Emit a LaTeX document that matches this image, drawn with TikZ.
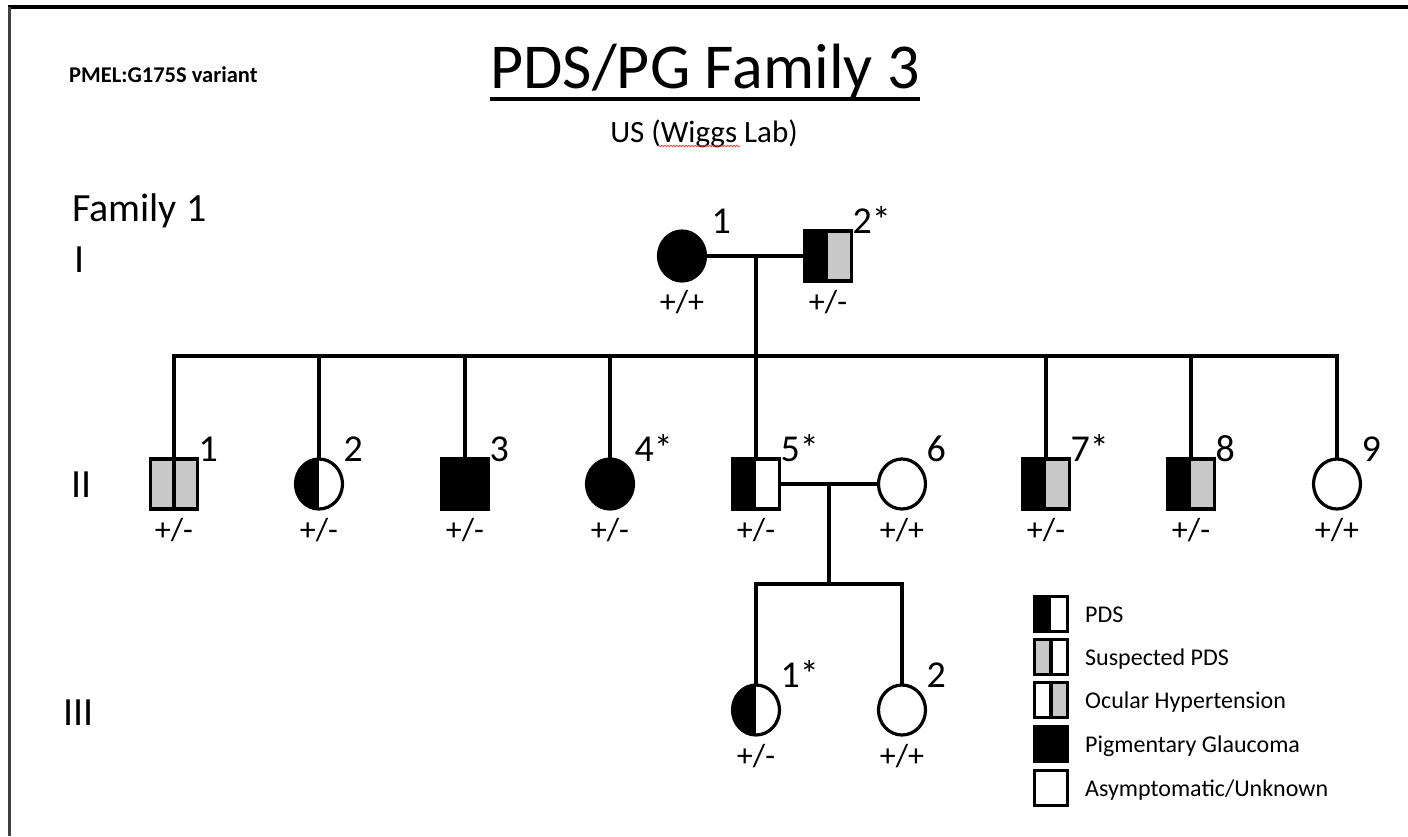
\documentclass[tikz,border=0pt]{standalone}
\usepackage{fontspec}
\setmainfont{Carlito}
\usetikzlibrary{shapes.geometric,calc,decorations.pathmorphing}
\definecolor{pgrey}{RGB}{200,200,200}
\tikzset{
  sym/.style={draw, line width=3.2pt, inner sep=0pt, outer sep=0pt},
  male/.style={sym, rectangle, minimum width=47pt, minimum height=50pt},
  female/.style={sym, ellipse, minimum width=47pt, minimum height=50pt},
  legbox/.style={sym, rectangle, minimum width=33pt, minimum height=35pt},
  leftblack/.style={path picture={\fill[black] (path picture bounding box.south west) rectangle (path picture bounding box.north);}},
  blackgrey/.style={path picture={\fill[black] (path picture bounding box.south west) rectangle (path picture bounding box.north);
      \fill[pgrey] (path picture bounding box.south) rectangle (path picture bounding box.north east);}},
  greyleft/.style={path picture={\fill[pgrey] (path picture bounding box.south west) rectangle (path picture bounding box.north);
      \draw[line width=3.2pt] (path picture bounding box.south) -- (path picture bounding box.north);}},
  greyright/.style={path picture={\fill[pgrey] (path picture bounding box.south) rectangle (path picture bounding box.north east);
      \draw[line width=3.2pt] (path picture bounding box.south) -- (path picture bounding box.north);}},
  conn/.style={line width=3.2pt},
  num/.style={font=\fontsize{38}{42}\selectfont, inner sep=0pt, anchor=base west},
  geno/.style={font=\fontsize{32}{36}\selectfont, inner sep=0pt, anchor=base},
  gen/.style={font=\fontsize{40}{44}\selectfont, inner sep=0pt, anchor=base west},
  legtxt/.style={font=\fontsize{24}{28}\selectfont, inner sep=0pt, anchor=base west},
}
\newcommand\personsym[6]{%
  \node[#2] (#1) at (#3,#4) {};
  \path (#1.east |- #1.north) ++(1,2) node[num] (#1-n) {#5};
  \path (#1.south) ++(0,31) node[geno] (#1-g) {#6};
}
\begin{document}
\begin{tikzpicture}[x=1pt,y=-1pt]
\useasboundingbox (0,0) rectangle (1408,836);
% frame
\draw[line width=3.5pt] (8,7) -- (1408,7);
\draw[line width=3pt, black!75] (9,7) -- (9,836);

% headings
\node[font=\bfseries\fontsize{22.5}{26}\selectfont, inner sep=0pt, anchor=base west] (pmel) at (69,82) {PMEL:G175S variant};
\node[font=\fontsize{64}{70}\selectfont, inner sep=0pt, anchor=base] (title) at (705,88) {PDS/PG Family 3};
\draw[line width=3.5pt] ([yshift=-11pt]title.base west) -- ([yshift=-11pt]title.base east);
\node[font=\fontsize{31}{34}\selectfont, inner sep=0pt, anchor=base] (sub) at (704,142) {US (Wiggs Lab)};
\draw[red!80, line width=0.7pt, decorate, decoration={snake, amplitude=0.8pt, segment length=3pt}] (658,146) -- (740,146);

% generation labels
\node[gen] (fam) at (72,221) {Family 1};
\node[gen] (gI) at (74,272) {I};
\node[gen] (gII) at (71,497) {II};
\node[gen] (gIII) at (63,725) {III};

% generation I
\personsym{I1}{female, fill=black}{682}{256}{\hspace{5pt}1}{+/+}
\personsym{I2}{male, blackgrey}{828}{256}{2*}{+/-}

% generation II
\personsym{II1}{male, fill=pgrey}{174}{484}{1}{+/-}
\personsym{II2}{female, leftblack}{319}{484}{2}{+/-}
\personsym{II3}{male, fill=black}{465}{484}{3}{+/-}
\personsym{II4}{female, fill=black}{610}{484}{4*}{+/-}
\personsym{II5}{male, leftblack}{756}{484}{5*}{+/-}
\personsym{II6}{female}{902}{484}{6}{+/+}
\personsym{II7}{male, blackgrey}{1046}{484}{7*}{+/-}
\personsym{II8}{male, blackgrey}{1191}{484}{8}{+/-}
\personsym{II9}{female}{1337}{484}{9}{+/+}

% generation III
\personsym{III1}{female, leftblack}{756}{710}{1*}{+/-}
\personsym{III2}{female}{902}{710}{2}{+/+}

% connectors
\coordinate (mI) at ($(I1.east)!0.5!(I2.west)$);
\draw[conn] (I1.east) -- (I2.west);
\draw[conn] (II5.north) -- (II5.north |- mI);
\coordinate (sibII) at (0,356);
\draw[conn] (II1.south) -- (II1 |- sibII) -- (II9 |- sibII) -- (II9.north);
\foreach \k in {II2,II3,II4,II7,II8} \draw[conn] (\k.north) -- (\k |- sibII);
\draw[conn] (II5.east) -- (II6.west);
\coordinate (mII) at ($(II5.east)!0.5!(II6.west)$);
\coordinate (sibIII) at (0,584);
\draw[conn] (mII) -- (mII |- sibIII);
\draw[conn] (III1.north) -- (III1 |- sibIII) -- (III2 |- sibIII) -- (III2.north);

% legend
\node[legbox, leftblack] (L1) at (1051,614) {};
\node[legbox, greyleft] (L2) at (1051,657) {};
\node[legbox, greyright] (L3) at (1051,700) {};
\node[legbox, fill=black] (L4) at (1051,744) {};
\node[legbox] (L5) at (1051,788) {};
\node[legtxt] (L1t) at (1085,622) {PDS};
\node[legtxt] (L2t) at (1085,665) {Suspected PDS};
\node[legtxt] (L3t) at (1085,708) {Ocular Hypertension};
\node[legtxt] (L4t) at (1085,752) {Pigmentary Glaucoma};
\node[legtxt] (L5t) at (1085,796) {Asymptomatic/Unknown};
\end{tikzpicture}
\end{document}
